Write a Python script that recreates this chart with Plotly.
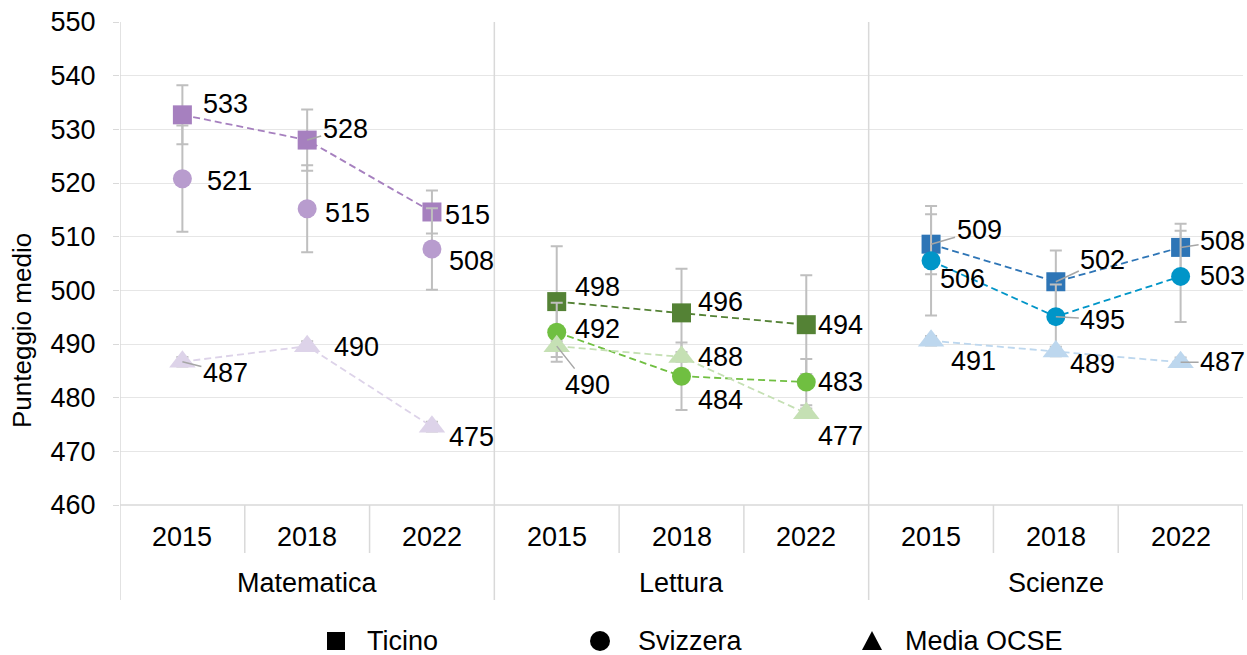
import plotly.graph_objects as go

subjects = ["Matematica", "Lettura", "Scienze"]
years = ["2015", "2018", "2022"]
series_names = ["Ticino", "Svizzera", "Media OCSE"]

ticino_mat = [532.7, 528.0, 514.6]
ticino_mat_err = [5.5, 5.7, 4.0]
svizzera_mat = [520.8, 515.2, 507.7]
svizzera_mat_err = [9.9, 8.1, 7.6]
ocse_mat = [486.7, 489.6, 474.6]
ocse_mat_err = [0.9, 0.9, 0.9]

ticino_let = [497.9, 495.8, 493.6]
ticino_let_err = [10.3, 8.2, 9.2]
svizzera_let = [492.2, 484.0, 482.9]
svizzera_let_err = [5.5, 6.3, 4.3]
ocse_let = [489.6, 487.6, 477.1]
ocse_let_err = [0.9, 0.9, 0.9]

ticino_sci = [508.6, 501.6, 508.0]
ticino_sci_err = [5.6, 5.8, 4.4]
svizzera_sci = [505.5, 495.1, 502.6]
svizzera_sci_err = [10.2, 6.0, 8.5]
ocse_sci = [490.6, 488.6, 486.6]
ocse_sci_err = [0.9, 0.9, 0.9]

# ---- styling ----
FONT = "Liberation Sans, Arial, sans-serif"
FS = 27
GRID = "#d9d9d9"
HGRID = "#e6e6e6"
ERR = "#bfbfbf"
LEADER = "#a6a6a6"

subject_colors = [
    ["#a680bf", "#b89cce", "#ddd3e9"],
    ["#548235", "#70bf41", "#c5e0b4"],
    ["#2e75b6", "#0095c8", "#bdd7ee"],
]
symbols = ["square", "circle", "triangle-up"]
sizes = [19, 19, 23]
draw_line = [[True, False, True], [True, True, True], [True, True, True]]

values = [
    [ticino_mat, svizzera_mat, ocse_mat],
    [ticino_let, svizzera_let, ocse_let],
    [ticino_sci, svizzera_sci, ocse_sci],
]
errors = [
    [ticino_mat_err, svizzera_mat_err, ocse_mat_err],
    [ticino_let_err, svizzera_let_err, ocse_let_err],
    [ticino_sci_err, svizzera_sci_err, ocse_sci_err],
]

# label offsets in px (dx, dy down), leader line flag
label_offsets = [
    [
        [(43, -11, False), (38, -11, True), (36, 3, False)],
        [(47, 2, False), (40, 4, False), (40, 12, False)],
        [(43, 11, True), (49, 1, False), (40, 10, False)],
    ],
    [
        [(41, -15, False), (39, -11, False), (34, 0, False)],
        [(41, -3, False), (39, 24, False), (34, 0, False)],
        [(31, 39, True), (39, 0, False), (34, 23, False)],
    ],
    [
        [(48, -14, True), (47, -22, True), (42, -6, True)],
        [(31, 18, False), (47, 3, True), (42, 0, False)],
        [(42, 20, False), (37, 12, False), (42, 0, True)],
    ],
]

fig = go.Figure()
annotations = []

for g in range(3):
    xs = [g * 3 + j + 0.5 for j in range(3)]
    for s in range(3):
        col = subject_colors[g][s]
        ys = values[g][s]
        fig.add_trace(go.Scatter(
            x=xs, y=ys,
            mode="lines+markers" if draw_line[g][s] else "markers",
            line=dict(color=col, width=1.8, dash="7px,4px"),
            marker=dict(symbol=symbols[s], size=sizes[s], color=col, line=dict(width=0)),
            error_y=dict(type="data", array=errors[g][s], color=ERR, thickness=2, width=6),
            showlegend=False, hoverinfo="skip", cliponaxis=False,
        ))
        for j in range(3):
            dx, dy, leader = label_offsets[g][s][j]
            txt = f"{ys[j]:.0f}"
            if leader:
                annotations.append(dict(
                    x=xs[j], y=ys[j], xref="x", yref="y", text=txt,
                    showarrow=True, ax=dx, ay=dy, arrowhead=0, arrowwidth=1.5,
                    arrowcolor=LEADER, standoff=0, startstandoff=0,
                    font=dict(family=FONT, size=FS, color="#000"),
                ))
            else:
                annotations.append(dict(
                    x=xs[j], y=ys[j], xref="x", yref="y", text=txt,
                    showarrow=False, xshift=dx, yshift=-dy,
                    xanchor="center", yanchor="middle",
                    font=dict(family=FONT, size=FS, color="#000"),
                ))

# geometry (screen px)
PL, PW, PT, PH = 120, 1123, 22, 483      # plot area
FIG_W, FIG_H = 1247, 655
def yp(py):
    return (PT + PH - py) / PH
def xp(px):
    return (px - PL) / PW

shapes = []
for xv in [0, 3, 6]:
    shapes.append(dict(type="line", xref="x", yref="paper", x0=xv, x1=xv,
                       y0=yp(600), y1=1, line=dict(color=GRID, width=1.5)))
shapes.append(dict(type="line", xref="x", yref="paper", x0=9, x1=9,
                   y0=yp(600), y1=0, line=dict(color=GRID, width=1.5)))
shapes.append(dict(type="line", xref="x", yref="paper", x0=0, x1=9,
                   y0=0, y1=0, line=dict(color=GRID, width=1.5)))
for xv in [1, 2, 4, 5, 7, 8]:
    shapes.append(dict(type="line", xref="x", yref="paper", x0=xv, x1=xv,
                       y0=yp(553), y1=0, line=dict(color=GRID, width=1.5)))

# category labels
for g in range(3):
    for j in range(3):
        annotations.append(dict(x=g * 3 + j + 0.5, y=yp(537), xref="x", yref="paper",
                                text=years[j], showarrow=False,
                                xanchor="center", yanchor="middle",
                                font=dict(family=FONT, size=FS, color="#000")))
    annotations.append(dict(x=g * 3 + 1.5, y=yp(583), xref="x", yref="paper",
                            text=subjects[g], showarrow=False,
                            xanchor="center", yanchor="middle",
                            font=dict(family=FONT, size=FS, color="#000")))

# y-axis title
annotations.append(dict(x=xp(22), y=yp(331), xref="paper", yref="paper",
                        text="Punteggio medio", textangle=-90, showarrow=False,
                        xanchor="center", yanchor="middle",
                        font=dict(family=FONT, size=26, color="#000")))

# legend (custom)
leg_y = yp(641)
leg_mark_x = [xp(336), xp(600), xp(872)]
leg_text_x = [xp(365), xp(636), xp(903)]
shapes.append(dict(type="rect", xref="paper", yref="paper", xsizemode="pixel", ysizemode="pixel",
                   xanchor=leg_mark_x[0], yanchor=leg_y, x0=-9, x1=9, y0=-9, y1=9,
                   fillcolor="#000", line=dict(width=0)))
shapes.append(dict(type="circle", xref="paper", yref="paper", xsizemode="pixel", ysizemode="pixel",
                   xanchor=leg_mark_x[1], yanchor=leg_y, x0=-10, x1=10, y0=-10, y1=10,
                   fillcolor="#000", line=dict(width=0)))
shapes.append(dict(type="path", xref="paper", yref="paper", xsizemode="pixel", ysizemode="pixel",
                   xanchor=leg_mark_x[2], yanchor=leg_y, path="M -10,-9 L 10,-9 L 0,10 Z",
                   fillcolor="#000", line=dict(width=0)))
for k in range(3):
    annotations.append(dict(x=leg_text_x[k], y=leg_y, xref="paper", yref="paper",
                            text=series_names[k], showarrow=False,
                            xanchor="left", yanchor="middle",
                            font=dict(family=FONT, size=FS, color="#000")))

fig.update_layout(
    width=FIG_W, height=FIG_H, autosize=False,
    margin=dict(l=PL, r=FIG_W - PL - PW, t=PT, b=FIG_H - PT - PH),
    plot_bgcolor="white", paper_bgcolor="white",
    font=dict(family=FONT, size=FS, color="#000"),
    xaxis=dict(range=[0, 9], showticklabels=False, showgrid=False, zeroline=False,
               showline=False, ticks=""),
    yaxis=dict(range=[460, 550], dtick=10, tick0=460, showgrid=True, gridcolor=HGRID,
               gridwidth=1.2, zeroline=False, showline=False, ticks="outside", ticklen=6,
               tickcolor=GRID, tickfont=dict(family=FONT, size=FS, color="#000"),
               ticklabelstandoff=12, ticklabeloverflow="allow"),
    shapes=shapes,
    annotations=annotations,
    showlegend=False,
)

# place the figure flush with the page edges (no default body margin / scrollbars)
fig.write_html(
    "out.html",
    config={"displayModeBar": False},
    post_script="document.body.style.margin='0';document.body.style.overflow='hidden';",
)
